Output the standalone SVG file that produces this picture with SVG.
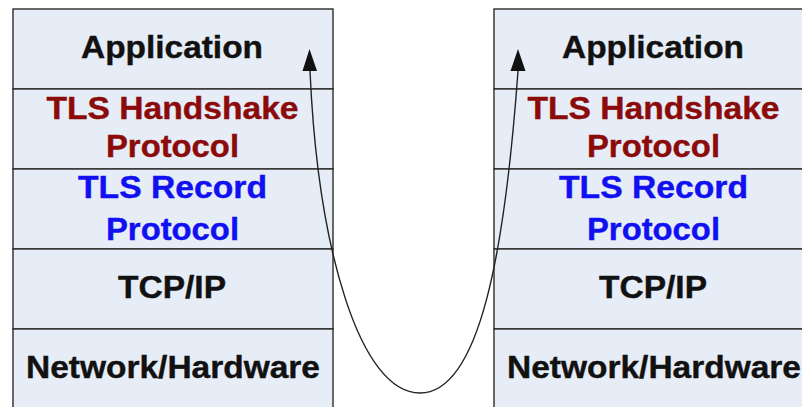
<svg xmlns="http://www.w3.org/2000/svg" width="802" height="407" viewBox="0 0 802 407">
<defs>
<style>
.box{fill:#e7edf7;stroke:#2b2b2b;stroke-width:1.4}
.t{font-family:"Liberation Sans",Arial,sans-serif;font-weight:bold;font-size:31px;text-anchor:middle;stroke-width:0.4}
.k{fill:#111;stroke:#111}
.r{fill:#8b0a0a;stroke:#8b0a0a}
.b{fill:#1010f0;stroke:#1010f0}
.c{fill:none;stroke:#222;stroke-width:1.4}
</style>
</defs>
<rect width="802" height="407" fill="#ffffff"/>
<g id="left-stack">
<g id="l-app"><rect class="box" x="13" y="9" width="320" height="80"/><text class="t k" x="172" y="58" textLength="182" lengthAdjust="spacingAndGlyphs">Application</text></g>
<g id="l-hs"><rect class="box" x="13" y="89" width="320" height="80"/><text class="t r" x="172.5" y="119" textLength="252" lengthAdjust="spacingAndGlyphs">TLS Handshake</text><text class="t r" x="172.5" y="157" textLength="133" lengthAdjust="spacingAndGlyphs">Protocol</text></g>
<g id="l-rec"><rect class="box" x="13" y="169" width="320" height="80"/><text class="t b" x="172.5" y="198" textLength="189" lengthAdjust="spacingAndGlyphs">TLS Record</text><text class="t b" x="172.5" y="240" textLength="133" lengthAdjust="spacingAndGlyphs">Protocol</text></g>
<g id="l-tcp"><rect class="box" x="13" y="249" width="320" height="80"/><text class="t k" x="172" y="298" textLength="108" lengthAdjust="spacingAndGlyphs">TCP/IP</text></g>
<g id="l-net"><rect class="box" x="13" y="329" width="320" height="90"/><text class="t k" x="173" y="378" textLength="294" lengthAdjust="spacingAndGlyphs">Network/Hardware</text></g>
</g>
<g id="right-stack">
<g id="r-app"><rect class="box" x="494" y="9" width="320" height="80"/><text class="t k" x="653" y="58" textLength="182" lengthAdjust="spacingAndGlyphs">Application</text></g>
<g id="r-hs"><rect class="box" x="494" y="89" width="320" height="80"/><text class="t r" x="653.5" y="119" textLength="252" lengthAdjust="spacingAndGlyphs">TLS Handshake</text><text class="t r" x="653.5" y="157" textLength="133" lengthAdjust="spacingAndGlyphs">Protocol</text></g>
<g id="r-rec"><rect class="box" x="494" y="169" width="320" height="80"/><text class="t b" x="653.5" y="198" textLength="189" lengthAdjust="spacingAndGlyphs">TLS Record</text><text class="t b" x="653.5" y="240" textLength="133" lengthAdjust="spacingAndGlyphs">Protocol</text></g>
<g id="r-tcp"><rect class="box" x="494" y="249" width="320" height="80"/><text class="t k" x="653" y="298" textLength="108" lengthAdjust="spacingAndGlyphs">TCP/IP</text></g>
<g id="r-net"><rect class="box" x="494" y="329" width="320" height="90"/><text class="t k" x="654" y="378" textLength="294" lengthAdjust="spacingAndGlyphs">Network/Hardware</text></g>
</g>
<g id="connectors">
<path class="c" d="M310,71 C318,250 360,393 420,393 C480,393 505,250 518,71"/>
<path d="M302.5,71 L309.5,49 L317,71 Z" fill="#111"/>
<path d="M510.5,71 L518,49 L525.5,71 Z" fill="#111"/>
</g>
</svg>
